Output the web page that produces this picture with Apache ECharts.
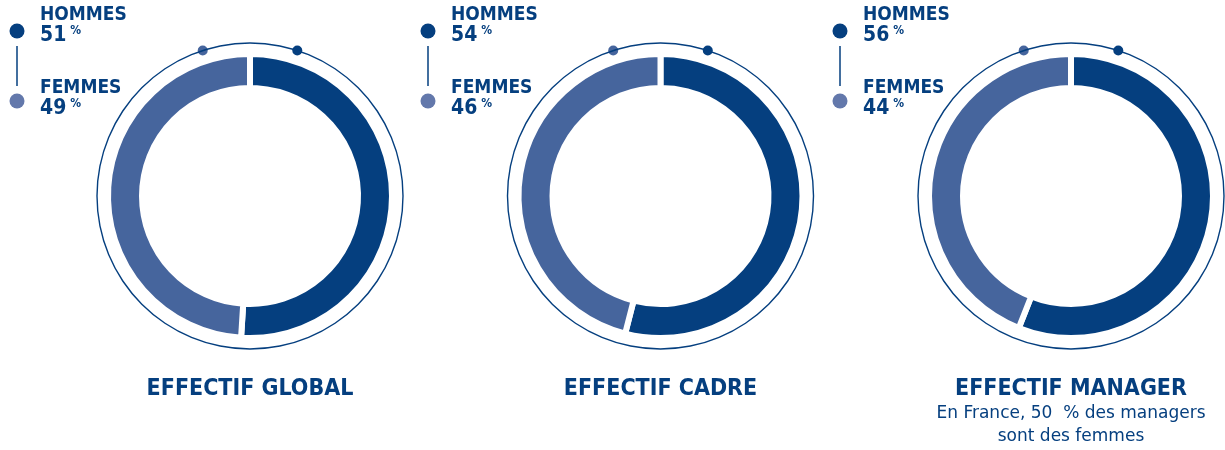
<!DOCTYPE html>
<html>
<head>
<meta charset="utf-8">
<script src="https://cdn.jsdelivr.net/npm/echarts@6/dist/echarts.min.js"></script>
<style>
  html, body { margin: 0; padding: 0; background: #ffffff; }
  #chart { width: 1225px; height: 450px; }
</style>
</head>
<body>
<div id="chart"></div>
<script>
// Workforce split by gender, one donut per population
const groups = ['EFFECTIF GLOBAL', 'EFFECTIF CADRE', 'EFFECTIF MANAGER'];
const seriesNames = ['HOMMES', 'FEMMES'];
const hommes = [51, 54, 56];
const femmes = [49, 46, 44];
const managerNote = ['En France, 50  % des managers', 'sont des femmes'];

const NAVY = '#053f7f';
const BLUE = '#46659d';
const BLUE_DOT = '#6378ab';
const BOLD_FONT = '"DejaVu Sans Condensed", "Liberation Sans Narrow", "Liberation Sans", sans-serif';
const TEXT_FONT = '"DejaVu Sans", "Liberation Sans", sans-serif';

const centers = [250, 660.5, 1071];
const cy = 196;
const ringR = 153;
const legendX = [17, 428, 840];

const chart = echarts.init(document.getElementById('chart'), null, { renderer: 'canvas' });

const series = [];
const graphic = [];

groups.forEach((g, i) => {
  const cx = centers[i];

  // thin outer ring
  series.push({
    type: 'pie',
    silent: true,
    center: [cx, cy],
    radius: [ringR - 0.7, ringR + 0.7],
    label: { show: false },
    labelLine: { show: false },
    itemStyle: { color: NAVY },
    data: [{ value: 1, name: 'ring' }]
  });

  // donut: hommes first, clockwise from 12 o'clock; white border opens the gaps
  series.push({
    type: 'pie',
    name: g,
    center: [cx, cy],
    radius: [108, 142],
    startAngle: 90,
    clockwise: true,
    label: { show: false },
    labelLine: { show: false },
    itemStyle: { borderColor: '#ffffff', borderWidth: 6 },
    data: [
      { name: seriesNames[0], value: hommes[i], itemStyle: { color: NAVY } },
      { name: seriesNames[1], value: femmes[i], itemStyle: { color: BLUE } }
    ]
  });

  // two marker dots on the outer ring
  const a = 18 * Math.PI / 180;
  [[-1, BLUE], [1, NAVY]].forEach(([s, c]) => {
    graphic.push({
      type: 'circle',
      shape: { cx: cx + s * ringR * Math.sin(a), cy: cy - ringR * Math.cos(a), r: 5 },
      style: { fill: c }
    });
  });

  // legend block
  const lx = legendX[i];
  graphic.push(
    { type: 'circle', shape: { cx: lx, cy: 31, r: 7.5 }, style: { fill: NAVY } },
    { type: 'line', shape: { x1: lx, y1: 46, x2: lx, y2: 86 }, style: { stroke: NAVY, lineWidth: 1.5 } },
    { type: 'circle', shape: { cx: lx, cy: 101, r: 7.5 }, style: { fill: BLUE_DOT } }
  );
  const rich = {
    n: { fontFamily: BOLD_FONT, fontWeight: 'bold', fontSize: 21, fill: NAVY, lineHeight: 22 },
    p: { fontFamily: BOLD_FONT, fontWeight: 'bold', fontSize: 12, fill: NAVY, verticalAlign: 'top', padding: [0, 0, 9, 4], lineHeight: 22 }
  };
  [[seriesNames[0], hommes[i], 15], [seriesNames[1], femmes[i], 88]].forEach(([nm, v, y]) => {
    graphic.push({
      type: 'text',
      x: lx + 23, y: y,
      style: { text: nm, font: 'bold 19px ' + BOLD_FONT, fill: NAVY, verticalAlign: 'middle' }
    });
    graphic.push({
      type: 'text',
      x: lx + 23, y: y + 21,
      style: { text: '{n|' + v + '}{p|%}', rich: rich, verticalAlign: 'middle' }
    });
  });

  // caption
  graphic.push({
    type: 'text',
    x: cx, y: 389,
    style: { text: g, font: 'bold 23px ' + BOLD_FONT, fill: NAVY, align: 'center', verticalAlign: 'middle' }
  });
});

managerNote.forEach((line, k) => {
  graphic.push({
    type: 'text',
    x: centers[2], y: 414 + k * 23,
    style: { text: line, font: '17px ' + TEXT_FONT, fill: NAVY, align: 'center', verticalAlign: 'middle' }
  });
});

chart.setOption({
  animation: false,
  backgroundColor: '#ffffff',
  series: series,
  graphic: graphic
});
</script>
</body>
</html>
